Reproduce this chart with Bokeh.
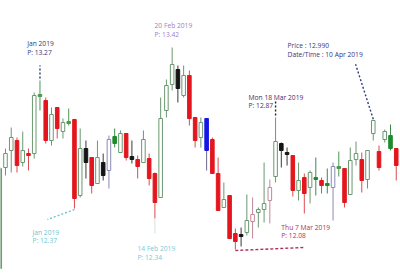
from bokeh.plotting import figure
from bokeh.models import Range1d, Label, ColumnDataSource
from bokeh.embed import file_html
from bokeh.resources import INLINE

# ---- data (prices) ----
opens = [12.092, 12.698, 12.800, 12.860, 12.728, 12.782, 12.782, 13.124, 13.100, 12.860,
         13.058, 12.914, 12.962, 12.986, 12.530, 12.812, 12.758, 12.602, 12.728, 12.680,
         12.884, 12.788, 12.902, 12.764, 12.746, 12.728, 12.752, 12.662, 12.518, 13.040,
         13.196, 13.286, 13.130, 13.250, 12.998, 12.878, 12.992, 12.866, 12.662, 12.458,
         12.530, 12.302, 12.296, 12.308, 12.374, 12.428, 12.446, 12.500, 12.644, 12.842,
         12.788, 12.770, 12.560, 12.638, 12.578, 12.626, 12.620, 12.590, 12.578, 12.692,
         12.692, 12.536, 12.746, 12.746, 12.626, 12.902, 12.794, 12.866, 12.890, 12.812]
highs = [12.700, 12.812, 12.938, 12.878, 12.914, 12.812, 13.148, 13.220, 13.118, 13.058,
         13.060, 12.992, 13.052, 12.990, 12.932, 12.860, 12.760, 12.860, 12.782, 12.890,
         12.932, 12.920, 12.904, 12.860, 12.770, 12.920, 12.782, 12.668, 13.118, 13.226,
         13.418, 13.310, 13.310, 13.280, 13.000, 12.998, 12.994, 12.878, 12.758, 12.608,
         12.532, 12.332, 12.338, 12.536, 12.518, 12.458, 12.728, 12.626, 12.998, 12.848,
         12.818, 12.772, 12.728, 12.662, 12.680, 12.758, 12.638, 12.692, 12.728, 12.794,
         12.694, 12.818, 12.854, 12.788, 12.802, 12.982, 12.830, 12.926, 12.956, 12.814]
lows = [12.088, 12.650, 12.668, 12.668, 12.704, 12.680, 12.752, 13.040, 12.842, 12.830,
        12.872, 12.872, 12.950, 12.452, 12.518, 12.632, 12.542, 12.600, 12.620, 12.572,
        12.818, 12.786, 12.740, 12.722, 12.632, 12.726, 12.590, 12.392, 12.516, 12.998,
        13.160, 13.088, 13.118, 12.950, 12.818, 12.818, 12.680, 12.660, 12.438, 12.456,
        12.270, 12.206, 12.224, 12.290, 12.272, 12.338, 12.368, 12.362, 12.608, 12.698,
        12.710, 12.524, 12.500, 12.422, 12.482, 12.530, 12.542, 12.542, 12.380, 12.644,
        12.458, 12.534, 12.710, 12.548, 12.572, 12.860, 12.680, 12.848, 12.800, 12.620]
closes = [12.692, 12.782, 12.878, 12.710, 12.800, 12.770, 13.130, 13.136, 12.860, 13.016,
          12.932, 12.968, 12.974, 12.512, 12.812, 12.728, 12.590, 12.758, 12.650, 12.866,
          12.842, 12.902, 12.758, 12.746, 12.704, 12.866, 12.632, 12.488, 12.992, 13.190,
          13.316, 13.172, 13.250, 12.992, 12.860, 12.968, 12.800, 12.662, 12.440, 12.506,
          12.272, 12.254, 12.284, 12.380, 12.416, 12.446, 12.482, 12.578, 12.854, 12.800,
          12.776, 12.560, 12.620, 12.542, 12.668, 12.638, 12.590, 12.602, 12.704, 12.704,
          12.488, 12.740, 12.782, 12.620, 12.800, 12.980, 12.698, 12.914, 12.812, 12.710]
# candle paint category
kinds = ["u", "u", "u", "r", "u", "r", "u", "c", "r", "u",
         "r", "u", "c", "r", "u", "k", "r", "u", "k", "l",
         "g", "u", "r", "k", "r", "u", "r", "r", "u", "u",
         "u", "k", "u", "r", "r", "u", "b", "r", "r", "u",
         "r", "r", "k", "u", "p", "u", "u", "p", "u", "k",
         "k", "r", "u", "r", "u", "g", "r", "g", "l", "c",
         "r", "u", "u", "r", "u", "u", "r", "u", "g", "r"]

# annotations: (candle index, anchor, line1, line2)
notes = [
    (7, "high", "Jan 2019", "P: 13.27"),
    (13, "low", "Jan 2019", "P: 12.37"),
    (30, "high", "20 Feb 2019", "P: 13.42"),
    (27, "low", "14 Feb 2019", "P: 12.34"),
    (48, "high", "Mon 18 Mar 2019", "P: 12.87"),
    (41, "low", "Thu 7 Mar 2019", "P: 12.08"),
    (65, "high", "Price : 12.990", "Date/Time : 10 Apr 2019"),
]

# ---- styles ----
FILL = {"u": "white", "l": "white", "p": "white", "r": "#e3161e", "k": "#151515",
        "g": "#1c8c2c", "b": "#1515e6", "c": "#4a9a50"}
EDGE = {"u": "#6a9870", "l": "#8a8ab8", "p": "#c4869a", "r": "#e3161e", "k": "#151515",
        "g": "#1c8c2c", "b": "#1515e6", "c": "#4a9a50"}
WICK = {"u": "#6a9870", "l": "#8a8ab8", "p": "#c4869a", "r": "#dc4a52", "k": "#3a3a3a",
        "g": "#3a8a4a", "b": "#6a6a90", "c": "#4a9a50"}

# text layout: (dx px, dy line1 px, dy line2 px, colour, leader)
NOTE_STYLE = [
    (-12.8, 37.5, 28.5, "#2b3a7a", ("dot", 0, 2, 0, 15, "#2b3a7a")),
    (-42.0, -24.0, -32.0, "#6ec6d0", ("dot", 0, -1, -27, -11, "#6ec6d0")),
    (-17.6, 22.0, 13.0, "#a57cc4", None),
    (-17.4, -30.0, -39.0, "#7ccad2", ("solid", 0, 0, 0, -15, "#d4e2e4")),
    (-27.0, 20.5, 12.0, "#4a2a6a", ("dot", 0, 2, 0, 17, "#222222")),
    (46.0, 22.0, 14.0, "#a8325a", ("dash", 0, -1, 68, 2, "#a8325a")),
    (-85.7, 75.0, 66.0, "#303880", ("dot", 0, 1, -17.7, 56, "#303880")),
]

W, H = 400, 276
x0, x1 = 0.13, 69.74
y0, y1 = 12.044, 13.70
px_x = (x1 - x0) / W
px_y = (y1 - y0) / H

p = figure(width=W, height=H, x_range=Range1d(x0, x1), y_range=Range1d(y0, y1),
           output_backend="svg", toolbar_location=None, min_border=0,
           x_axis_location=None, y_axis_location=None)
p.grid.visible = False
p.outline_line_color = None
p.background_fill_color = "white"
p.border_fill_color = "white"

idx = list(range(len(opens)))
src = ColumnDataSource(dict(
    x=idx, h=highs, l=lows,
    top=[max(o, c) for o, c in zip(opens, closes)],
    bot=[min(o, c) for o, c in zip(opens, closes)],
    fill=[FILL[k] for k in kinds], edge=[EDGE[k] for k in kinds],
    wick=[WICK[k] for k in kinds],
))
p.segment(x0="x", y0="h", x1="x", y1="l", line_color="wick", line_width=1, source=src)
p.vbar(x="x", top="top", bottom="bot", width=0.62, fill_color="fill",
       line_color="edge", line_width=1, source=src)

DASH = {"dot": "2 2", "dash": "3 2", "solid": "solid"}
for (i, anchor, t1, t2), (dx, dy1, dy2, col, lead) in zip(notes, NOTE_STYLE):
    ay = highs[i] if anchor == "high" else lows[i]
    for txt, dy in ((t1, dy1), (t2, dy2)):
        p.add_layout(Label(x=i, y=ay, x_offset=dx, y_offset=dy, text=txt,
                           text_font="Open Sans", text_font_size="6.7px",
                           text_color=col, text_baseline="middle", text_align="left"))
    if lead:
        style, sx, sy, ex, ey, lc = lead
        p.segment(x0=[i + sx * px_x], y0=[ay + sy * px_y],
                  x1=[i + ex * px_x], y1=[ay + ey * px_y],
                  line_color=lc, line_width=1.4 if style != "solid" else 1,
                  line_dash=DASH[style])

open("out.html", "w").write(file_html(p, INLINE))
